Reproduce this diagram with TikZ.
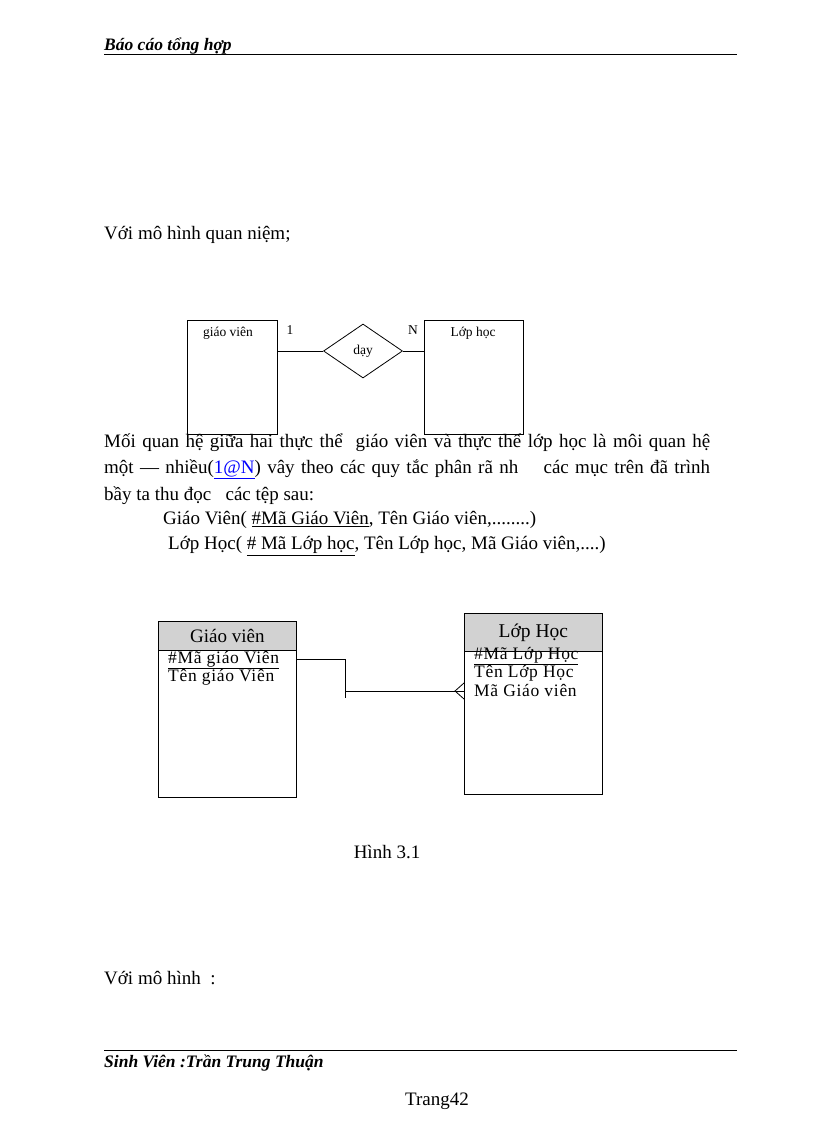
\documentclass[tikz,border=0pt]{standalone}
\usepackage{fontspec}
\setmainfont{Liberation Serif}
\usetikzlibrary{positioning, shapes.geometric}

\tikzset{
  entity/.style={draw, line width=0.8pt, inner sep=0pt, anchor=north west},
  tablehead/.style={entity, fill=gray!35},
  relation/.style={draw, diamond, aspect=1.46, minimum width=79pt, minimum height=54pt, inner sep=0pt, line width=0.8pt},
  txt/.style={anchor=west, inner sep=0pt, font=\fontsize{19}{22}\selectfont},
  row/.style={anchor=west, inner sep=0pt, font=\fontsize{17.5}{20}\selectfont\addfontfeature{LetterSpace=4}},
  small/.style={inner sep=0pt, font=\fontsize{13.5}{15}\selectfont},
  script/.style={anchor=base west, inner sep=0pt, font=\fontsize{17.5}{20}\selectfont\bfseries\itshape},
}

\begin{document}
\begin{tikzpicture}[x=1pt, y=-1pt]
  \useasboundingbox (0,0) rectangle (816,1123);

  % page header
  \node[script] (hdr) at (104,51) {Báo cáo tổng hợp};
  \draw[line width=0.8pt] (104,54) -- (737,54);

  \node[txt] (intro) at (104,235) {Với mô hình quan niệm;};

  % conceptual model
  \node[entity, minimum width=90pt, minimum height=114pt] (gv) at (187,320) {};
  \node[entity, minimum width=99pt, minimum height=114pt] (lh) at (424,320) {};
  \node[relation, small] (day) at (363,351) {dạy};
  \node[small] (gvname) at (228,333) {giáo viên};
  \node[small] (lhname) at (473,333) {Lớp học};
  \node[small] (one) at (290,330) {1};
  \node[small] (many) at (413,330) {N};
  \draw[line width=0.8pt] (day.west) -- (day.west -| gv.east);
  \draw[line width=0.8pt] (day.east) -- (day.east -| lh.west);

  % text
  \node[txt] (p1) at (104,443) {\makebox[606pt][s]{Mối quan hệ giữa hai thực thể\ \ giáo viên và thực thể lớp học là môi quan hệ}};
  \node[txt] (p2) at (104,469) {\makebox[606pt][s]{một — nhiều(\textcolor{blue}{\underline{1@N}}) vây theo các quy tắc phân rã nh\quad\ các mục trên đã trình}};
  \node[txt] (p3) at (104,496) {bầy ta thu đọc\ \ \ các tệp sau:};
  \node[txt] (p4) at (163,520) {Giáo Viên( \underline{\#Mã Giáo Viên}, Tên Giáo viên,........)};
  \node[txt] (p5) at (168,546) {Lớp Học( \underline{\# Mã Lớp học}, Tên Lớp học, Mã Giáo viên,....)};

  % logical model
  \node[tablehead, minimum width=138pt, minimum height=29pt] (gvhead) at (158,621) {};
  \node[entity, minimum width=138pt, minimum height=147pt] (gvbody) at (158,650) {};
  \node[txt, anchor=center] (gvtitle) at (gvhead.center) {Giáo viên};
  \node[row] (gvrow1) at (168,660) {\underline{\#Mã giáo Viên}};
  \node[row] (gvrow2) at (168,677) {Tên giáo Viên};

  \node[tablehead, minimum width=138pt, minimum height=38pt] (lhhead) at (464,613) {};
  \node[entity, minimum width=138pt, minimum height=143pt] (lhbody) at (464,651) {};
  \node[txt, anchor=center, font=\fontsize{19.5}{22}\selectfont] (lhtitle) at (lhhead.center) {Lớp Học};
  \node[row] (lhrow1) at (474,656) {\underline{\#Mã Lớp Học}};
  \node[row] (lhrow2) at (474,673) {Tên Lớp Học};
  \node[row] (lhrow3) at (474,690) {Mã Giáo viên};

  \coordinate (bend1) at (345,659);
  \coordinate (bend2) at (345,691);
  \coordinate (foot) at (455,691);
  \draw[line width=0.8pt] (gvbody.east |- bend1) -- (bend1) -- ++(0,39);
  \draw[line width=0.8pt] (bend2) -- (lhbody.west |- bend2);
  \draw[line width=0.8pt] (lhbody.west |- 0,683) -- (foot) -- (lhbody.west |- 0,699);

  \node[txt, anchor=center] (caption) at (387,852) {Hình 3.1};

  \node[txt] (next) at (104,978) {Với mô hình\ \ :};

  % page footer
  \draw[line width=0.8pt] (104,1050) -- (737,1050);
  \node[script] (ftr) at (104,1067) {Sinh Viên :Trần Trung Thuận};
  \node[txt, anchor=center] (page) at (437,1101) {Trang42};
\end{tikzpicture}
\end{document}
